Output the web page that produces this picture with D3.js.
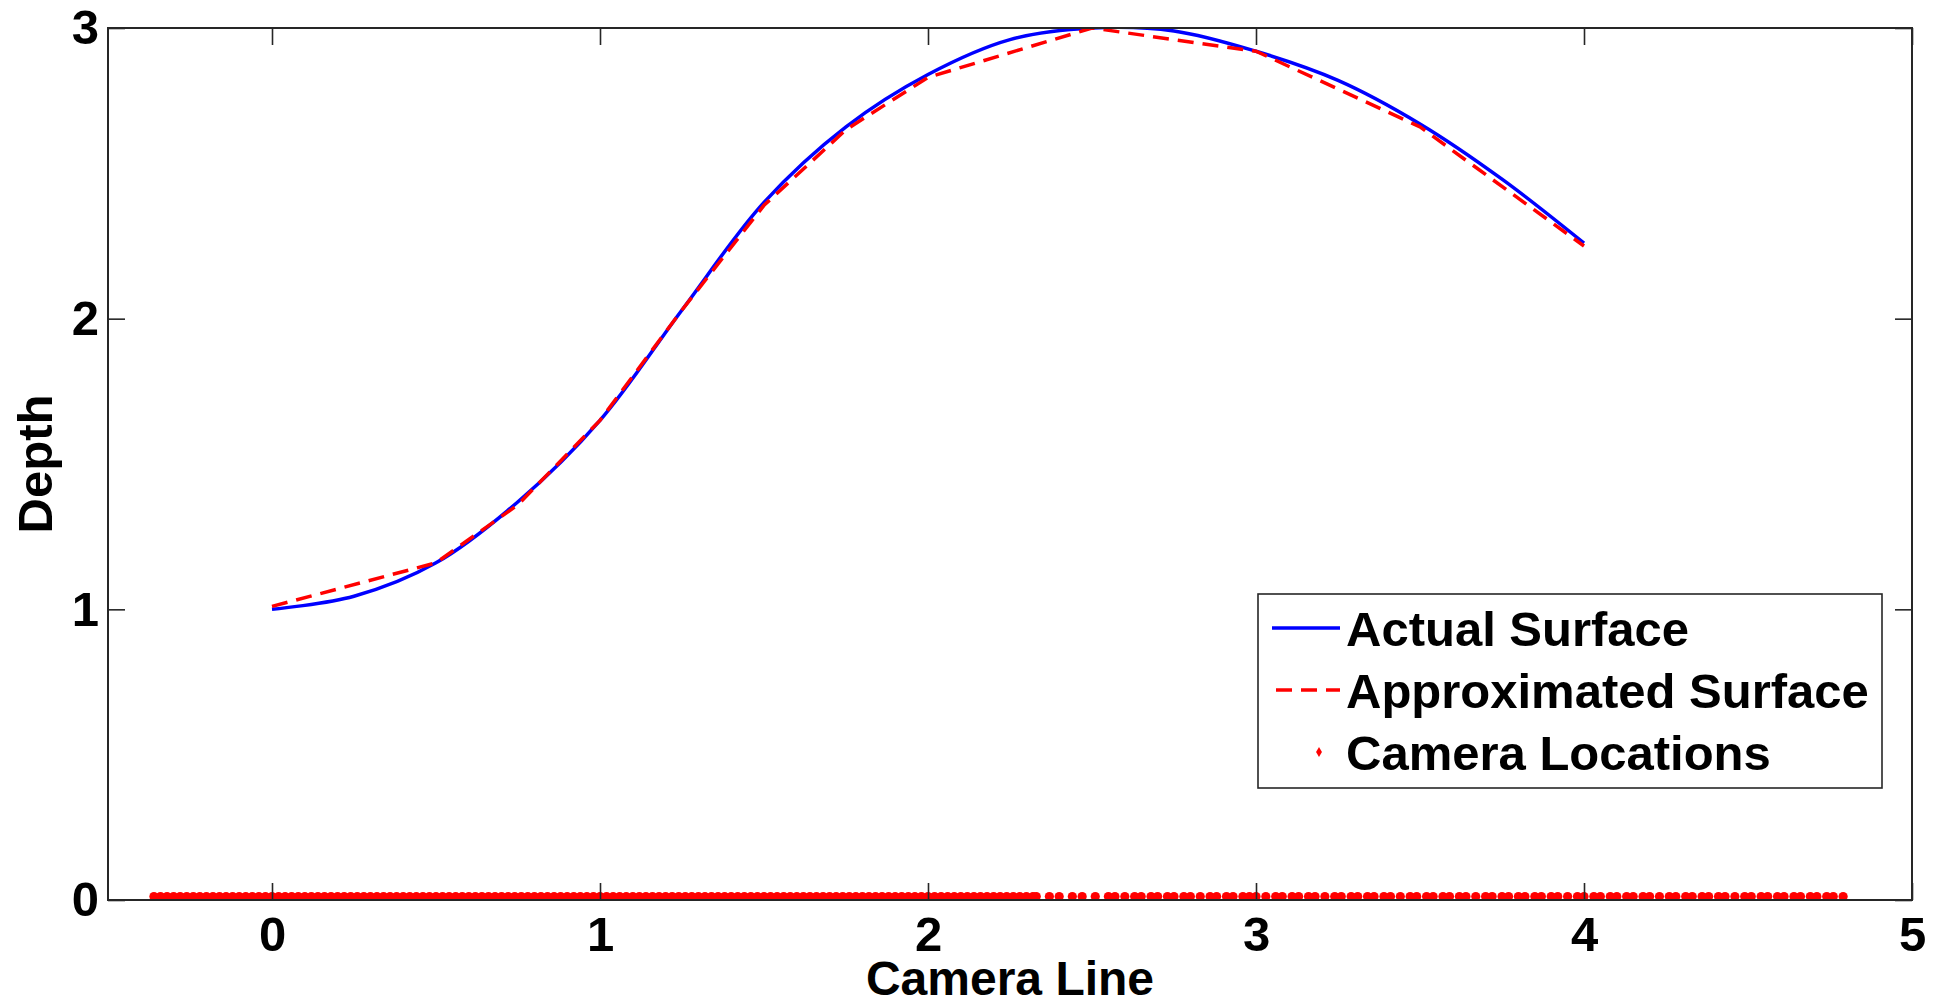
<!DOCTYPE html>
<html>
<head>
<meta charset="utf-8">
<script src="https://cdn.jsdelivr.net/npm/d3@7"></script>
<style>
  body { margin: 0; background: #ffffff; }
  text { font-family: "Liberation Sans", Arial, Helvetica, sans-serif; font-weight: bold; fill: #000; }
</style>
</head>
<body>
<svg id="chart" width="1937" height="1005"></svg>
<script>
// Actual surface profile (camera line position -> depth)
const actualX     = [0, 0.25, 0.5, 0.75, 1.0, 1.25, 1.5, 1.75, 2.0, 2.25, 2.5, 2.75, 3.0, 3.25, 3.5, 3.75, 4.0];
const actualDepth = [1.00, 1.045, 1.16, 1.37, 1.65, 2.03, 2.40, 2.66, 2.84, 2.96, 3.00, 2.99, 2.92, 2.82, 2.67, 2.48, 2.26];

// Piecewise-linear approximation of the surface
const approxX     = [0, 0.5, 0.75, 1.0, 1.25, 1.5, 1.75, 2.0, 2.5, 3.0, 3.5, 4.0];
const approxDepth = [1.01, 1.16, 1.36, 1.65, 2.03, 2.39, 2.65, 2.83, 3.00, 2.92, 2.66, 2.25];

// Camera positions along the line (depth 0)
const cameraX = [
  -0.36, -0.34, -0.32, -0.30, -0.28, -0.26, -0.24, -0.22, -0.20, -0.18, -0.16, -0.14, -0.12, -0.10,
  -0.08, -0.06, -0.04, -0.02, 0.00, 0.02, 0.04, 0.06, 0.08, 0.10, 0.12, 0.14, 0.16, 0.18, 0.20,
  0.22, 0.24, 0.26, 0.28, 0.30, 0.32, 0.34, 0.36, 0.38, 0.40, 0.42, 0.44, 0.46, 0.48, 0.50,
  0.52, 0.54, 0.56, 0.58, 0.60, 0.62, 0.64, 0.66, 0.68, 0.70, 0.72, 0.74, 0.76, 0.78, 0.80,
  0.82, 0.84, 0.86, 0.88, 0.90, 0.92, 0.94, 0.96, 0.98, 1.00, 1.02, 1.04, 1.06, 1.08, 1.10,
  1.12, 1.14, 1.16, 1.18, 1.20, 1.22, 1.24, 1.26, 1.28, 1.30, 1.32, 1.34, 1.36, 1.38, 1.40,
  1.42, 1.44, 1.46, 1.48, 1.50, 1.52, 1.54, 1.56, 1.58, 1.60, 1.62, 1.64, 1.66, 1.68, 1.70,
  1.72, 1.74, 1.76, 1.78, 1.80, 1.82, 1.84, 1.86, 1.88, 1.90, 1.92, 1.94, 1.96, 1.98, 2.00,
  2.02, 2.04, 2.06, 2.08, 2.10, 2.12, 2.14, 2.16, 2.18, 2.20, 2.22, 2.24, 2.26, 2.28, 2.30, 2.32,
  2.33, 2.37, 2.40, 2.44, 2.47, 2.51, 2.55, 2.57, 2.60, 2.63, 2.65, 2.68, 2.70, 2.73, 2.75,
  2.78, 2.80, 2.83, 2.86, 2.88, 2.91, 2.93, 2.96, 2.98, 3.00, 3.03, 3.06, 3.08, 3.11, 3.13,
  3.16, 3.18, 3.21, 3.24, 3.26, 3.29, 3.31, 3.34, 3.36, 3.39, 3.41, 3.44, 3.47, 3.49, 3.52,
  3.54, 3.57, 3.59, 3.62, 3.64, 3.67, 3.70, 3.72, 3.75, 3.77, 3.80, 3.82, 3.85, 3.87, 3.90,
  3.92, 3.95, 3.98, 4.00, 4.03, 4.05, 4.08, 4.10, 4.13, 4.15, 4.18, 4.20, 4.23, 4.26, 4.28,
  4.31, 4.33, 4.36, 4.38, 4.41, 4.43, 4.46, 4.49, 4.51, 4.54, 4.56, 4.59, 4.61, 4.64, 4.66,
  4.69, 4.71, 4.74, 4.76, 4.79
];

const xTicks = [0, 1, 2, 3, 4, 5];
const yTicks = [0, 1, 2, 3];
const legendLabels = ["Actual Surface", "Approximated Surface", "Camera Locations"];
const xAxisTitle = "Camera Line";
const yAxisTitle = "Depth";

// ---- layout ----
const plot = { left: 108, top: 28, right: 1912, bottom: 900 };
const FONT = 49;
const AXIS_COLOR = "#262626";
const BLUE = "#0000ff", RED = "#ff0000";

const svg = d3.select("#chart");

const x = d3.scaleLinear().domain([-0.5, 5]).range([plot.left, plot.right]);
const y = d3.scaleLinear().domain([0, 3]).range([plot.bottom, plot.top]);

svg.append("defs").append("clipPath").attr("id", "plot-clip")
  .append("rect")
  .attr("x", plot.left).attr("y", plot.top)
  .attr("width", plot.right - plot.left).attr("height", plot.bottom - plot.top);

// ---- data layers ----
const layer = svg.append("g").attr("clip-path", "url(#plot-clip)");

const actual = actualX.map((v, i) => [v, actualDepth[i]]);
const approx = approxX.map((v, i) => [v, approxDepth[i]]);

layer.append("path")
  .datum(actual)
  .attr("fill", "none")
  .attr("stroke", BLUE)
  .attr("stroke-width", 3.5)
  .attr("d", d3.line().x(d => x(d[0])).y(d => y(d[1])).curve(d3.curveCatmullRom.alpha(0.5)));

layer.append("path")
  .datum(approx)
  .attr("fill", "none")
  .attr("stroke", RED)
  .attr("stroke-width", 3.5)
  .attr("stroke-dasharray", "16,9")
  .attr("d", d3.line().x(d => x(d[0])).y(d => y(d[1])));

layer.selectAll("circle.cam")
  .data(cameraX)
  .join("circle")
  .attr("class", "cam")
  .attr("cx", d => x(d))
  .attr("cy", y(0) - 3.5)
  .attr("r", 4.6)
  .attr("fill", RED);

// ---- axes (boxed, inward ticks) ----
const TICK = 17;
const axisB = d3.axisBottom(x).tickValues(xTicks).tickFormat(d3.format("d"))
  .tickSizeInner(-TICK).tickSizeOuter(0).tickPadding(16);
const axisT = d3.axisTop(x).tickValues(xTicks).tickFormat("")
  .tickSizeInner(-TICK).tickSizeOuter(0);
const axisL = d3.axisLeft(y).tickValues(yTicks).tickFormat(d3.format("d"))
  .tickSizeInner(-TICK).tickSizeOuter(0).tickPadding(9);
const axisR = d3.axisRight(y).tickValues(yTicks).tickFormat("")
  .tickSizeInner(-TICK).tickSizeOuter(0);

function styleAxis(g) {
  g.select(".domain").remove();
  g.selectAll(".tick line").attr("stroke", AXIS_COLOR).attr("stroke-width", 1.6);
  g.selectAll(".tick text").attr("fill", "#000").style("font-size", FONT + "px")
    .style("font-family", '"Liberation Sans", Arial, sans-serif').style("font-weight", "bold");
}

svg.append("g").attr("transform", `translate(0,${plot.bottom})`).call(axisB).call(styleAxis);
svg.append("g").attr("transform", `translate(0,${plot.top})`).call(axisT).call(styleAxis);
svg.append("g").attr("transform", `translate(${plot.left},0)`).call(axisL).call(styleAxis);
svg.append("g").attr("transform", `translate(${plot.right},0)`).call(axisR).call(styleAxis);

svg.append("rect")
  .attr("x", plot.left).attr("y", plot.top)
  .attr("width", plot.right - plot.left).attr("height", plot.bottom - plot.top)
  .attr("fill", "none").attr("stroke", AXIS_COLOR).attr("stroke-width", 2);

// ---- axis titles ----
svg.append("text")
  .attr("x", (plot.left + plot.right) / 2).attr("y", 995)
  .attr("text-anchor", "middle")
  .style("font-size", "48px")
  .text(xAxisTitle);

svg.append("text")
  .attr("transform", `translate(35,${(plot.top + plot.bottom) / 2}) rotate(-90)`)
  .attr("text-anchor", "middle")
  .attr("dy", "0.35em")
  .style("font-size", FONT + "px")
  .text(yAxisTitle);

// ---- legend ----
const legend = svg.append("g");
const lg = { x: 1258, y: 594, w: 624, h: 194 };
legend.append("rect")
  .attr("x", lg.x).attr("y", lg.y).attr("width", lg.w).attr("height", lg.h)
  .attr("fill", "#fff").attr("stroke", AXIS_COLOR).attr("stroke-width", 1.6);

const rowY = [628, 690, 752];
const sampleX0 = 1272, sampleX1 = 1340, textX = 1346;

legend.append("line")
  .attr("x1", sampleX0).attr("x2", sampleX1).attr("y1", rowY[0]).attr("y2", rowY[0])
  .attr("stroke", BLUE).attr("stroke-width", 3.5);
legend.append("line")
  .attr("x1", sampleX0 + 4).attr("x2", sampleX1).attr("y1", rowY[1]).attr("y2", rowY[1])
  .attr("stroke", RED).attr("stroke-width", 3.5).attr("stroke-dasharray", "16,9");
legend.append("path")
  .attr("d", d3.symbol(d3.symbolDiamond, 30)())
  .attr("transform", `translate(${(sampleX0 + sampleX1) / 2 + 13},${rowY[2]})`)
  .attr("fill", RED);

legend.selectAll("text.lab")
  .data(legendLabels)
  .join("text")
  .attr("class", "lab")
  .attr("x", textX)
  .attr("y", (d, i) => rowY[i])
  .attr("dy", "0.36em")
  .style("font-size", FONT + "px")
  .text(d => d);
</script>
</body>
</html>
